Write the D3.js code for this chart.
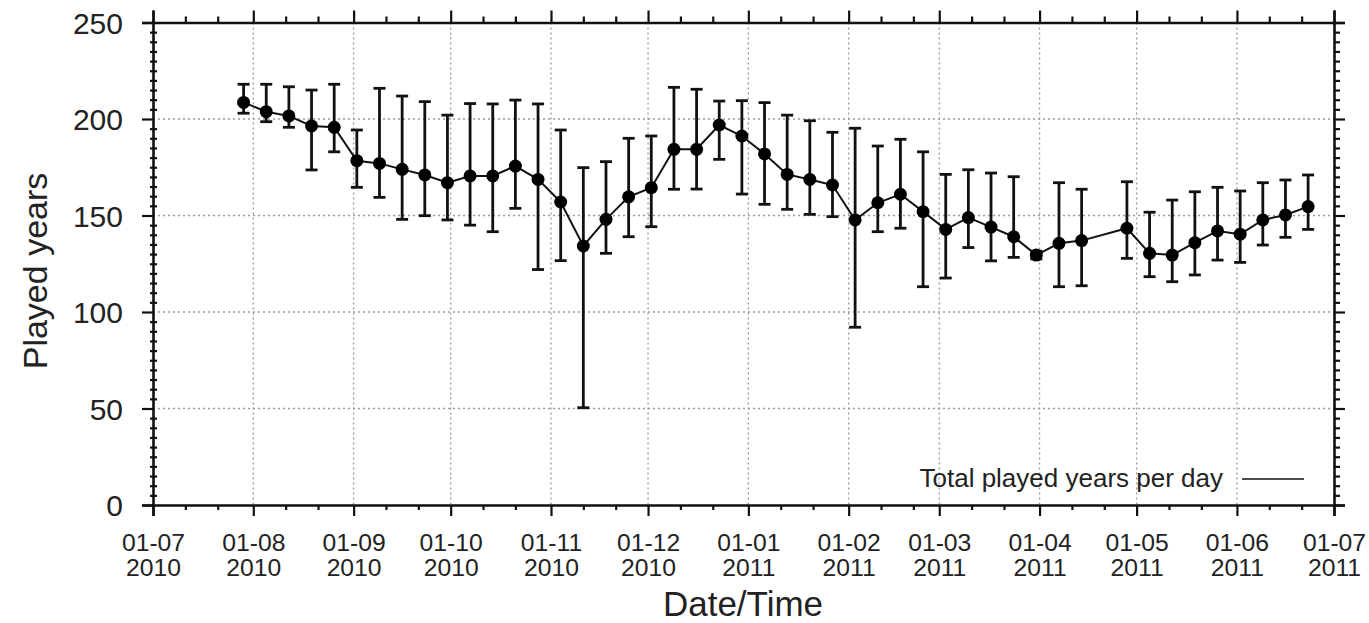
<!DOCTYPE html>
<html>
<head>
<meta charset="utf-8">
<script src="https://cdn.jsdelivr.net/npm/d3@7"></script>
<style>
  body { margin: 0; background: #fff; }
  svg { display: block; font-family: "Liberation Sans", Arial, sans-serif; }
  .grid line { stroke: #9a9a9a; stroke-width: 1.3; stroke-dasharray: 2,3; }
</style>
</head>
<body>
<div id="chart"></div>
<script>
// weekly samples (date, mean, lower and upper end of the error bar)
const dates = [
  "2010-07-29", "2010-08-05", "2010-08-12", "2010-08-19", "2010-08-26",
  "2010-09-02", "2010-09-09", "2010-09-16", "2010-09-23", "2010-09-30",
  "2010-10-07", "2010-10-14", "2010-10-21", "2010-10-28", "2010-11-04",
  "2010-11-11", "2010-11-18", "2010-11-25", "2010-12-02", "2010-12-09",
  "2010-12-16", "2010-12-23", "2010-12-30", "2011-01-06", "2011-01-13",
  "2011-01-20", "2011-01-27", "2011-02-03", "2011-02-10", "2011-02-17",
  "2011-02-24", "2011-03-03", "2011-03-10", "2011-03-17", "2011-03-24",
  "2011-03-31", "2011-04-07", "2011-04-14", "2011-04-28", "2011-05-05",
  "2011-05-12", "2011-05-19", "2011-05-26", "2011-06-02", "2011-06-09",
  "2011-06-16", "2011-06-23"
];
const values = [
  208.6, 203.8, 201.6, 196.4, 195.7, 178.4, 177, 173.9, 171, 167,
  170.5, 170.5, 175.6, 168.7, 157, 134.2, 148, 159.7, 164.4, 184.3,
  184.3, 196.9, 191.2, 181.9, 171.3, 168.7, 165.8, 147.7, 156.6, 161,
  152, 142.8, 148.9, 144, 139, 129.5, 135.6, 137, 143.4, 130.4,
  129.5, 135.9, 142, 140.3, 147.7, 150.3, 154.6
];
const lows = [
  203, 198.6, 195.7, 173.6, 183, 164.6, 159.4, 148, 149.9, 147.7,
  145, 141.6, 153.7, 122, 126.6, 50.4, 130.4, 139, 144.2, 163.6,
  163.7, 179.1, 161.1, 155.8, 153.2, 150.6, 149.4, 92.1, 141.6, 143.4,
  113.1, 117.6, 133.4, 126.5, 128.3, 127.5, 113.1, 113.6, 127.8, 118.3,
  115.7, 119.2, 126.9, 125.7, 134.7, 138.7, 142.8
];
const highs = [
  218, 218, 216.7, 215, 218, 194.3, 215.9, 211.9, 209, 202,
  208, 207.8, 209.8, 207.8, 194.3, 174.8, 177.9, 190, 191.2, 216.4,
  215.4, 209.3, 209.5, 208.5, 202, 199.1, 193.1, 195.2, 186, 189.5,
  183, 171.3, 173.7, 172, 170.1, 131.5, 167, 163.6, 167.5, 151.7,
  158, 162.3, 164.6, 162.7, 167, 168.4, 171
];
const yTicks = [0, 50, 100, 150, 200, 250];
const xTickDates = [
  "2010-07-01", "2010-08-01", "2010-09-01", "2010-10-01", "2010-11-01",
  "2010-12-01", "2011-01-01", "2011-02-01", "2011-03-01", "2011-04-01",
  "2011-05-01", "2011-06-01", "2011-07-01"
];
const seriesName = "Total played years per day";
const xTitle = "Date/Time";
const yTitle = "Played years";

const W = 1369, H = 623;
const margin = { top: 22.5, right: 35, bottom: 118, left: 153 };
const width = W - margin.left - margin.right,
      height = H - margin.top - margin.bottom;

const parse = d3.timeParse("%Y-%m-%d");
const data = dates.map((d, i) => ({ date: parse(d), v: values[i], lo: lows[i], hi: highs[i] }));
const xTicks = xTickDates.map(parse);

const svg = d3.select("#chart").append("svg")
    .attr("width", W).attr("height", H);
const g = svg.append("g")
    .attr("transform", "translate(" + margin.left + "," + margin.top + ")");

const x = d3.scaleTime().domain([xTicks[0], xTicks[xTicks.length - 1]]).range([0, width]);
const y = d3.scaleLinear().domain([0, 250]).range([height, 0]);

// minor ticks on the 11th and 21st of each month, every 5 on y
const xMinor = d3.timeDays(xTicks[0], xTicks[xTicks.length - 1])
    .filter(d => d.getDate() === 11 || d.getDate() === 21);
const yMinor = d3.range(0, 251, 5).filter(v => v % 50 !== 0);

// grid
const grid = g.append("g").attr("class", "grid");
grid.selectAll(".vg").data(xTicks.slice(1, -1)).enter().append("line")
    .attr("x1", d => x(d)).attr("x2", d => x(d))
    .attr("y1", 0).attr("y2", height);
grid.selectAll(".hg").data(yTicks.slice(1, -1)).enter().append("line")
    .attr("x1", 0).attr("x2", width)
    .attr("y1", d => y(d)).attr("y2", d => y(d));

// axes
const fmtMonth = d3.timeFormat("%d-%m"), fmtYear = d3.timeFormat("%Y");
const xAxis = g.append("g").attr("transform", "translate(0," + height + ")")
    .call(d3.axisBottom(x).tickValues(xTicks).tickSize(11).tickFormat(""));
xAxis.selectAll(".tick").each(function(d) {
  const t = d3.select(this);
  [[fmtMonth(d), 46], [fmtYear(d), 71]].forEach(([s, yy]) => {
    t.append("text")
      .attr("transform", "translate(0," + yy + ") scale(1.15,1.12)")
      .attr("fill", "#222").attr("font-size", 21.5).attr("text-anchor", "middle")
      .text(s);
  });
});
const minorOpts = ax => ax.call(s => s.select(".domain").remove());
g.append("g").attr("transform", "translate(0," + height + ")")
    .call(d3.axisBottom(x).tickValues(xMinor).tickSize(5).tickFormat("")).call(minorOpts);

g.append("g")
    .call(d3.axisTop(x).tickValues(xTicks).tickSize(12).tickFormat(""));
g.append("g")
    .call(d3.axisTop(x).tickValues(xMinor).tickSize(6).tickFormat("")).call(minorOpts);

const yAxis = g.append("g")
    .call(d3.axisLeft(y).tickValues(yTicks).tickSize(11).tickPadding(19));
yAxis.selectAll("text").attr("font-size", 30).attr("fill", "#222").attr("dy", "0.36em");
g.append("g").attr("transform", "translate(4,0)")
    .call(d3.axisLeft(y).tickValues(yMinor).tickSize(7).tickFormat("")).call(minorOpts);

g.append("g").attr("transform", "translate(" + width + ",0)")
    .call(d3.axisRight(y).tickValues(yTicks).tickSize(11).tickFormat(""));
g.append("g").attr("transform", "translate(" + width + ",0)")
    .call(d3.axisRight(y).tickValues(yMinor).tickSize(6).tickFormat("")).call(minorOpts);

g.selectAll(".domain").attr("stroke", "#111").attr("stroke-width", 2.6);
g.selectAll(".tick line").attr("stroke", "#111").attr("stroke-width", 2.2);

// error bars
const cap = 6;
const eb = g.append("g").attr("stroke", "#111").attr("stroke-width", 2.8);
eb.selectAll(".v").data(data).enter().append("line")
    .attr("x1", d => x(d.date)).attr("x2", d => x(d.date))
    .attr("y1", d => y(d.lo)).attr("y2", d => y(d.hi));
eb.selectAll(".t").data(data).enter().append("line")
    .attr("x1", d => x(d.date) - cap).attr("x2", d => x(d.date) + cap)
    .attr("y1", d => y(d.hi)).attr("y2", d => y(d.hi));
eb.selectAll(".b").data(data).enter().append("line")
    .attr("x1", d => x(d.date) - cap).attr("x2", d => x(d.date) + cap)
    .attr("y1", d => y(d.lo)).attr("y2", d => y(d.lo));

// line + points
const line = d3.line().x(d => x(d.date)).y(d => y(d.v));
g.append("path").datum(data)
    .attr("fill", "none").attr("stroke", "#111").attr("stroke-width", 2)
    .attr("d", line);
g.selectAll(".dot").data(data).enter().append("circle")
    .attr("cx", d => x(d.date)).attr("cy", d => y(d.v))
    .attr("r", 6.5).attr("fill", "#000");

// legend
g.append("text").attr("x", 1223 - margin.left).attr("y", 487 - margin.top)
    .attr("text-anchor", "end").attr("font-size", 26).attr("fill", "#222")
    .text(seriesName);
g.append("line")
    .attr("x1", 1242 - margin.left).attr("x2", 1304 - margin.left)
    .attr("y1", 479 - margin.top).attr("y2", 479 - margin.top)
    .attr("stroke", "#111").attr("stroke-width", 1.5);

// titles
svg.append("text").attr("x", 743).attr("y", 616)
    .attr("text-anchor", "middle").attr("font-size", 35).attr("fill", "#222")
    .text(xTitle);
svg.append("text")
    .attr("transform", "translate(47,271) rotate(-90)")
    .attr("text-anchor", "middle").attr("font-size", 34).attr("fill", "#222")
    .text(yTitle);
</script>
</body>
</html>
